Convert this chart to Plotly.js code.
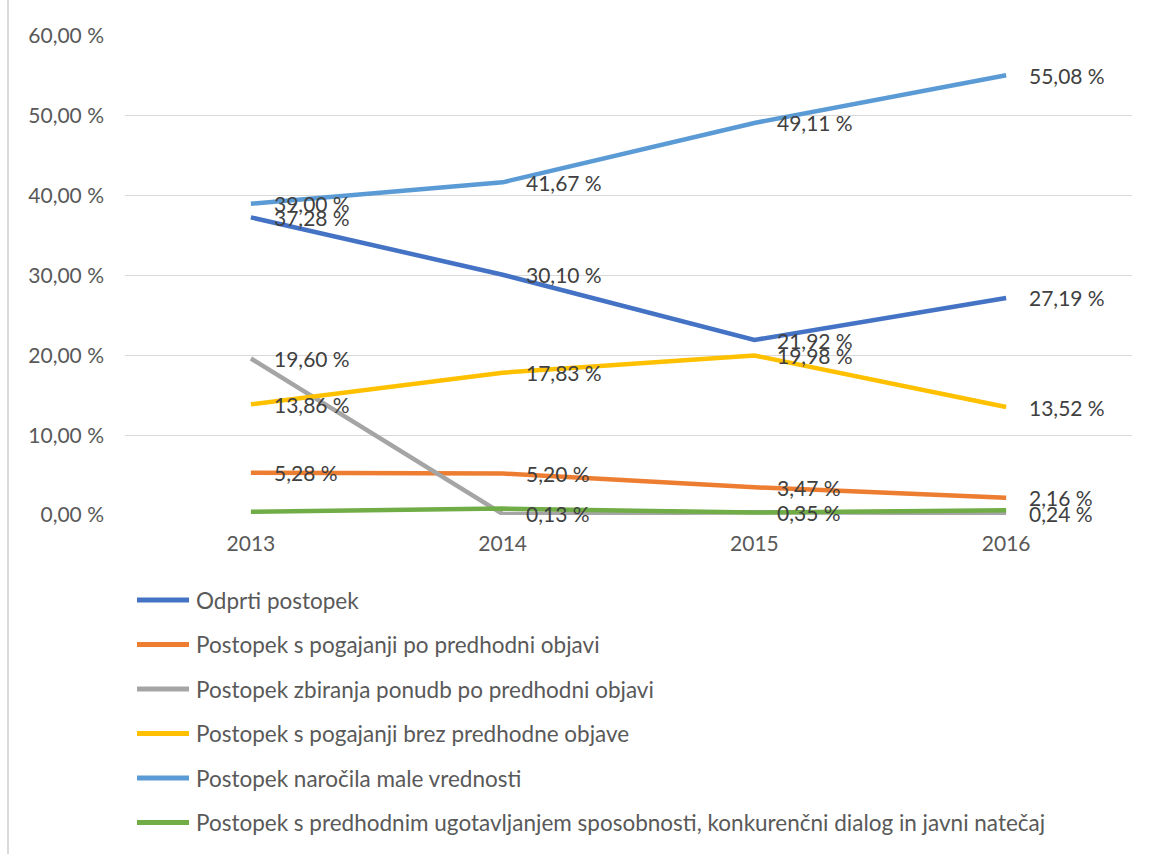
<!DOCTYPE html>
<html><head><meta charset="utf-8">
<script src="https://cdn.plot.ly/plotly-3.0.1.min.js"></script>
<style>html,body{margin:0;padding:0;background:#fff;}#chart{width:1156px;height:854px;}</style>
</head><body><div id="chart"></div>
<script>
const years = ['2013', '2014', '2015', '2016'];
const seriesNames = [
  'Odprti postopek',
  'Postopek s pogajanji po predhodni objavi',
  'Postopek zbiranja ponudb po predhodni objavi',
  'Postopek s pogajanji brez predhodne objave',
  'Postopek naročila male vrednosti',
  'Postopek s predhodnim ugotavljanjem sposobnosti, konkurenčni dialog in javni natečaj'
];
const odprti = [37.28, 30.10, 21.92, 27.19];
const pogajanjiPo = [5.28, 5.20, 3.47, 2.16];
const zbiranje = [19.60, 0.13, 0.35, 0.24];
const pogajanjiBrez = [13.86, 17.83, 19.98, 13.52];
const maleVrednosti = [39.00, 41.67, 49.11, 55.08];
const predhodnim = [0.40, 0.80, 0.30, 0.60];
const showLabels = [true, true, true, true, true, false];
const colors = ['#4472C4', '#ED7D31', '#A5A5A5', '#FFC000', '#5B9BD5', '#70AD47'];
const allSeries = [odprti, pogajanjiPo, zbiranje, pogajanjiBrez, maleVrednosti, predhodnim];

const FONT = 'Lato, "Open Sans", sans-serif';
const fmt = v => v.toFixed(2).replace('.', ',') + ' %';

// plot area geometry (pixels)
const PL = 125, PR = 24, PT = 36, PB = 339, W = 1156, H = 854;
const PW = W - PL - PR, PH = H - PT - PB;
const px = p => (p - PL) / PW;
const py = p => (H - PB - p) / PH;

const traces = allSeries.map((vals, i) => ({
  x: years, y: vals, name: seriesNames[i], type: 'scatter', mode: 'lines',
  line: {color: colors[i], width: 4.5}, hoverinfo: 'skip', showlegend: false
}));

const annotations = [];
const shapes = [];
allSeries.forEach((vals, i) => {
  if (!showLabels[i]) return;
  vals.forEach((v, j) => annotations.push({
    x: j, y: v, xref: 'x', yref: 'y', text: fmt(v), showarrow: false,
    xanchor: 'left', yanchor: 'middle', xshift: 21,
    font: {family: FONT, size: 21, color: '#404040'}
  }));
});

// legend drawn below the plot
seriesNames.forEach((name, i) => {
  const rowY = 600 + i * 44.5;
  shapes.push({type: 'line', xref: 'paper', yref: 'paper', x0: px(137), x1: px(189),
    y0: py(rowY), y1: py(rowY), line: {color: colors[i], width: 5}});
  annotations.push({xref: 'paper', yref: 'paper', x: px(194), y: py(rowY), text: name,
    showarrow: false, xanchor: 'left', yanchor: 'middle',
    font: {family: FONT, size: 22.5, color: '#595959'}});
});

shapes.push({type: 'line', xref: 'paper', yref: 'paper', x0: px(8), x1: px(8),
  y0: py(H), y1: py(0), line: {color: '#D9D9D9', width: 2}});

const layout = {
  width: W, height: H,
  margin: {l: PL, r: PR, t: PT, b: PB},
  paper_bgcolor: '#fff', plot_bgcolor: '#fff',
  font: {family: FONT, size: 21, color: '#595959'},
  xaxis: {type: 'category', range: [-0.5, 3.5], showgrid: false, zeroline: false, automargin: false,
    showline: false, ticks: '', ticklabelstandoff: 14, tickfont: {size: 21, color: '#595959'}, fixedrange: true},
  yaxis: {range: [0, 60], dtick: 10, showgrid: true, gridcolor: '#D9D9D9', gridwidth: 1.3, automargin: false,
    zeroline: false, showline: false, ticks: '', ticksuffix: ' %', tickformat: '.2f',
    ticklabelstandoff: 20, tickfont: {size: 21, color: '#595959'}, fixedrange: true},
  separators: ', ',
  showlegend: false,
  annotations: annotations,
  shapes: shapes
};
Plotly.newPlot('chart', traces, layout, {displayModeBar: false, staticPlot: true});
</script></body></html>
